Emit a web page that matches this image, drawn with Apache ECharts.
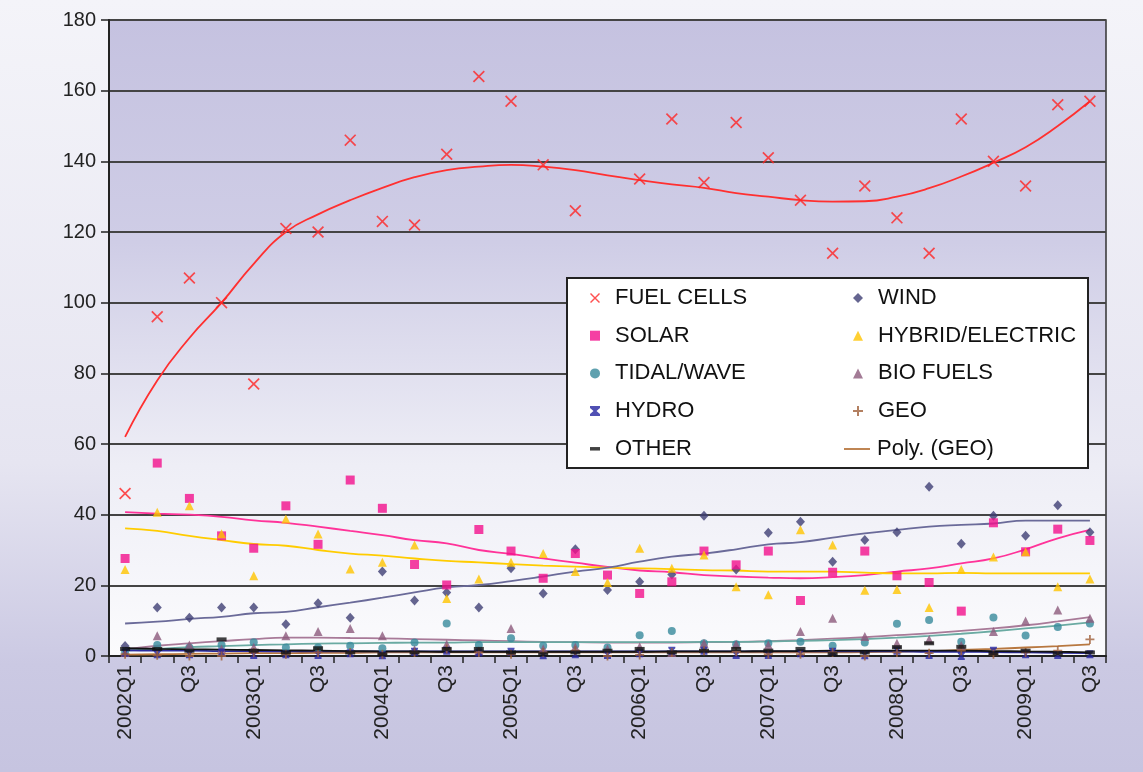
<!DOCTYPE html>
<html>
<head>
<meta charset="utf-8">
<script src="https://cdn.jsdelivr.net/npm/echarts@6/dist/echarts.min.js"></script>
<style>
html,body{margin:0;padding:0;}
#main{width:1143px;height:772px;}
</style>
</head>
<body>
<div id="main"></div>
<script>
// quarters 2002Q1 .. 2009Q3
var quarters = ['2002Q1','Q2','Q3','Q4','2003Q1','Q2','Q3','Q4','2004Q1','Q2','Q3','Q4',
    '2005Q1','Q2','Q3','Q4','2006Q1','Q2','Q3','Q4','2007Q1','Q2','Q3','Q4',
    '2008Q1','Q2','Q3','Q4','2009Q1','Q2','Q3'];
var yTicks = [0, 180, 20];

// points
var fuelCells = [46,96,107,100,77,121,120,146,123,122,142,164,157,139,126,null,135,152,134,151,141,129,114,133,124,114,152,140,133,156,157];
var wind = [2.8,13.7,10.8,13.7,13.7,9,14.9,10.8,23.9,15.7,18,13.7,24.8,17.7,30.2,18.7,21,23.1,39.7,24.5,34.9,38,26.7,32.8,35,47.9,31.8,39.7,34,42.7,35];
var solar = [27.6,54.6,44.6,34,30.5,42.5,31.6,49.8,41.8,25.9,20.1,35.8,29.7,22,29,22.9,17.7,21,29.7,25.8,29.7,15.7,23.7,29.7,22.7,20.8,12.7,37.7,29.5,35.9,32.7];
var hybrid = [24.5,40.7,42.5,34.6,22.7,38.8,34.5,24.6,26.5,31.4,16.3,21.8,26.5,29,23.9,20.8,30.5,24.8,28.6,19.6,17.3,35.7,31.4,18.6,18.8,13.7,24.5,28,29.5,19.6,21.8];
var tidal = [1.2,3.1,2.4,3.1,3.9,2.4,2.4,2.9,2.2,3.8,9.2,3.1,5,2.9,3.1,2.4,5.9,7.1,3.6,3.3,3.6,4,2.9,3.8,9.1,10.2,4,10.9,5.8,8.2,9.2];
var bio = [1,5.7,3.1,2,2.5,5.7,6.9,7.8,5.7,1.8,3.3,1.5,7.8,2,2.5,2,2.6,1,3.6,3.3,3.1,6.9,10.7,5.5,3.6,4.7,3,6.9,9.9,13,10.7];
var hydro = [1,0.5,0.5,1,0.3,0.5,0.3,0.8,0.2,1.2,1.5,1,1.2,0.2,0.5,0.3,0.8,1.5,1.5,0.3,0.3,0.8,1.2,0.2,1.5,0.3,0,1.5,0.5,0.3,0.5];
var geo = [0.5,0.2,0,0,1,0.5,1,1,0.5,1,2,1,0.5,1,1.5,0,0.3,1,1.5,1.2,0.5,0.5,1,0,1,0.8,1.5,0.5,1,1.5,4.7];
var other = [2,2,1.5,4.7,1.5,1,2.2,1,0.5,1,2,2,1,0.5,1,1.5,2,1,1.5,2,1.5,2,0.5,1,2.5,3.6,2.6,0.8,1.5,0.8,1];

// trend lines at each quarter
var fuelTrend = [62,78,90,100,111,120,125,129,132.5,135.5,137.5,138.5,139,138.5,137.5,136,134.7,133.5,132.5,131,130,129,128.6,128.7,130,132.4,135.7,139.6,144,150,157];
var solarTrend = [40.7,40.3,40,39.4,38.4,37.7,36.6,35.4,34.2,32.8,31.9,30,28.9,27.6,26.4,25.2,24.2,23.7,22.9,22.5,22.2,22,22.3,22.9,23.9,24.8,26.2,27.6,30.2,33.3,35.7];
var hybridTrend = [36.1,35.4,34,32.8,31.7,31.2,30,29,28.4,27.6,26.9,26.5,26,25.6,25.3,25,24.8,24.6,24.3,24.2,23.9,23.9,23.9,23.6,23.4,23.4,23.5,23.4,23.4,23.4,23.4];
var windTrend = [9.2,9.7,10.5,11.1,12.1,12.5,13.8,15.1,16.5,18,19.4,20.1,21.2,22.5,23.9,25,26.7,28.1,29,30.2,31.6,32.2,33.5,34.7,35.7,36.6,37.1,37.5,38.3,38.3,38.3];
var bioTrend = [1.9,2.9,3.6,4.2,4.8,5.2,5.2,5.1,5,4.8,4.6,4.4,4.2,4,3.9,3.8,3.8,3.8,3.9,4,4.2,4.5,4.9,5.3,5.9,6.4,7.1,7.8,8.7,9.8,11];
var tidalTrend = [1.5,2,2.5,2.8,3.1,3.3,3.5,3.6,3.7,3.8,3.8,3.9,3.9,3.9,3.9,3.9,3.9,3.9,4,4,4.1,4.3,4.5,4.8,5.2,5.7,6.3,7,7.8,8.6,9.5];
var geoTrend = [0.4,0.5,0.6,0.7,0.8,0.8,0.9,0.9,1,1,1,1,1,1,1,1,1,1,1,1,1,1,1,1.1,1.2,1.4,1.7,2,2.4,2.8,3.3];
var hydroTrend = [1.6,1.5,1.5,1.4,1.4,1.3,1.3,1.3,1.3,1.3,1.3,1.3,1.3,1.3,1.3,1.3,1.3,1.3,1.3,1.3,1.3,1.3,1.3,1.3,1.3,1.2,1.2,1.1,1,0.9,0.8];
var otherTrend = [2.2,2,1.9,1.8,1.7,1.6,1.5,1.4,1.3,1.3,1.2,1.2,1.2,1.2,1.2,1.2,1.2,1.3,1.3,1.3,1.4,1.4,1.5,1.5,1.5,1.5,1.5,1.4,1.3,1.2,1];

var FONT = '"Liberation Sans", Arial, sans-serif';

var xMark = 'path://M0,1 L1,0 L10,9 L9,10 Z M9,0 L10,1 L1,10 L0,9 Z';
var plusMark = 'path://M4,0 L6,0 L6,4 L10,4 L10,6 L6,6 L6,10 L4,10 L4,6 L0,6 L0,4 L4,4 Z';
var hourglass = 'path://M0,0 L10,0 L10,2 L6.5,5 L10,8 L10,10 L0,10 L0,8 L3.5,5 L0,2 Z';
var dash = 'path://M0,0 L10,0 L10,3.5 L0,3.5 Z';
var lineIcon = 'path://M0,0 L26,0 L26,1.8 L0,1.8 Z';

function pts(name, data, symbol, size, color) {
    return {
        name: name,
        type: 'scatter',
        data: data,
        symbol: symbol,
        symbolSize: size,
        symbolKeepAspect: false,
        itemStyle: {color: color},
        z: 3
    };
}
function trend(name, data, color) {
    return {
        name: name,
        type: 'line',
        data: data,
        smooth: true,
        symbol: 'none',
        silent: true,
        lineStyle: {color: color, width: 1.8},
        itemStyle: {color: color},
        z: 2
    };
}

function legendText(padLeft) {
    return {fontSize: 22, fontFamily: FONT, color: '#111', lineHeight: 24, padding: [0, 0, 0, padLeft]};
}

var chart = echarts.init(document.getElementById('main'));

var option = {
    animation: false,
    backgroundColor: {
        type: 'linear', x: 0, y: 0, x2: 0, y2: 1,
        colorStops: [
            {offset: 0, color: '#f4f4f9'},
            {offset: 0.6, color: '#e6e5f1'},
            {offset: 0.86, color: '#cbc9e3'},
            {offset: 1, color: '#c6c4e0'}
        ]
    },
    grid: {
        left: 109, right: 37, top: 20, bottom: 116,
        show: true,
        borderColor: '#333',
        borderWidth: 1.5,
        backgroundColor: {
            type: 'linear', x: 0, y: 0, x2: 0, y2: 1,
            colorStops: [
                {offset: 0, color: '#c5c2e0'},
                {offset: 0.35, color: '#cfcde6'},
                {offset: 0.7, color: '#eeeef6'},
                {offset: 1, color: '#fbfbfd'}
            ]
        }
    },
    xAxis: {
        type: 'category',
        data: quarters,
        boundaryGap: true,
        axisLine: {lineStyle: {color: '#222', width: 2}},
        axisTick: {show: true, interval: 0, length: 7, lineStyle: {color: '#222', width: 1.5}},
        axisLabel: {
            interval: 1,
            rotate: 90,
            margin: 9,
            fontSize: 21,
            fontFamily: FONT,
            color: '#222'
        },
        splitLine: {show: false}
    },
    yAxis: {
        type: 'value',
        min: yTicks[0],
        max: yTicks[1],
        interval: yTicks[2],
        axisLine: {show: true, lineStyle: {color: '#222', width: 2}},
        axisTick: {show: true, length: 8, lineStyle: {color: '#222', width: 1.5}},
        axisLabel: {
            margin: 13,
            fontSize: 20,
            fontFamily: FONT,
            color: '#222'
        },
        splitLine: {lineStyle: {color: '#444', width: 2}}
    },
    graphic: [{
        type: 'rect',
        shape: {x: 567, y: 278, width: 521, height: 190},
        style: {fill: '#ffffff', stroke: '#222', lineWidth: 2},
        z: 50
    }],
    legend: [{
        orient: 'vertical',
        left: 585, top: 281,
        itemWidth: 10, itemHeight: 10,
        itemGap: 13.7,
        selectedMode: false,
        textStyle: legendText(10),
        data: ['FUEL CELLS', 'SOLAR', 'TIDAL/WAVE', 'HYDRO', 'OTHER'],
        z: 60
    }, {
        orient: 'vertical',
        left: 848, top: 281,
        itemWidth: 10, itemHeight: 10,
        itemGap: 13.7,
        selectedMode: false,
        textStyle: legendText(10),
        data: ['WIND', 'HYBRID/ELECTRIC', 'BIO FUELS', 'GEO'],
        z: 60
    }, {
        orient: 'vertical',
        left: 839, top: 432,
        itemWidth: 26, itemHeight: 10,
        symbolKeepAspect: true,
        selectedMode: false,
        textStyle: legendText(2),
        data: [{name: 'Poly. (GEO)', icon: lineIcon}],
        z: 60
    }],
    series: [
        pts('FUEL CELLS', fuelCells, xMark, 12, '#ff2424'),
        pts('WIND', wind, 'diamond', [9, 10], '#3e3e74'),
        pts('SOLAR', solar, 'rect', 9, '#f2108c'),
        pts('HYBRID/ELECTRIC', hybrid, 'triangle', 9, '#ffc400'),
        pts('TIDAL/WAVE', tidal, 'circle', 8, '#37899b'),
        pts('BIO FUELS', bio, 'triangle', 9, '#8c5a7c'),
        pts('HYDRO', hydro, hourglass, [7, 8], '#2424a0'),
        pts('GEO', geo, plusMark, 9, '#a0603a'),
        pts('OTHER', other, dash, [10, 4], '#111111'),
        trend('fuel trend', fuelTrend, '#ff3030'),
        trend('solar trend', solarTrend, '#ff3399'),
        trend('hybrid trend', hybridTrend, '#ffcc00'),
        trend('wind trend', windTrend, '#6a6a99'),
        trend('bio trend', bioTrend, '#a87a98'),
        trend('tidal trend', tidalTrend, '#6aaaa2'),
        trend('Poly. (GEO)', geoTrend, '#b87840'),
        trend('hydro trend', hydroTrend, '#2c2ca0'),
        trend('other trend', otherTrend, '#111111')
    ]
};

chart.setOption(option);
</script>
</body>
</html>
